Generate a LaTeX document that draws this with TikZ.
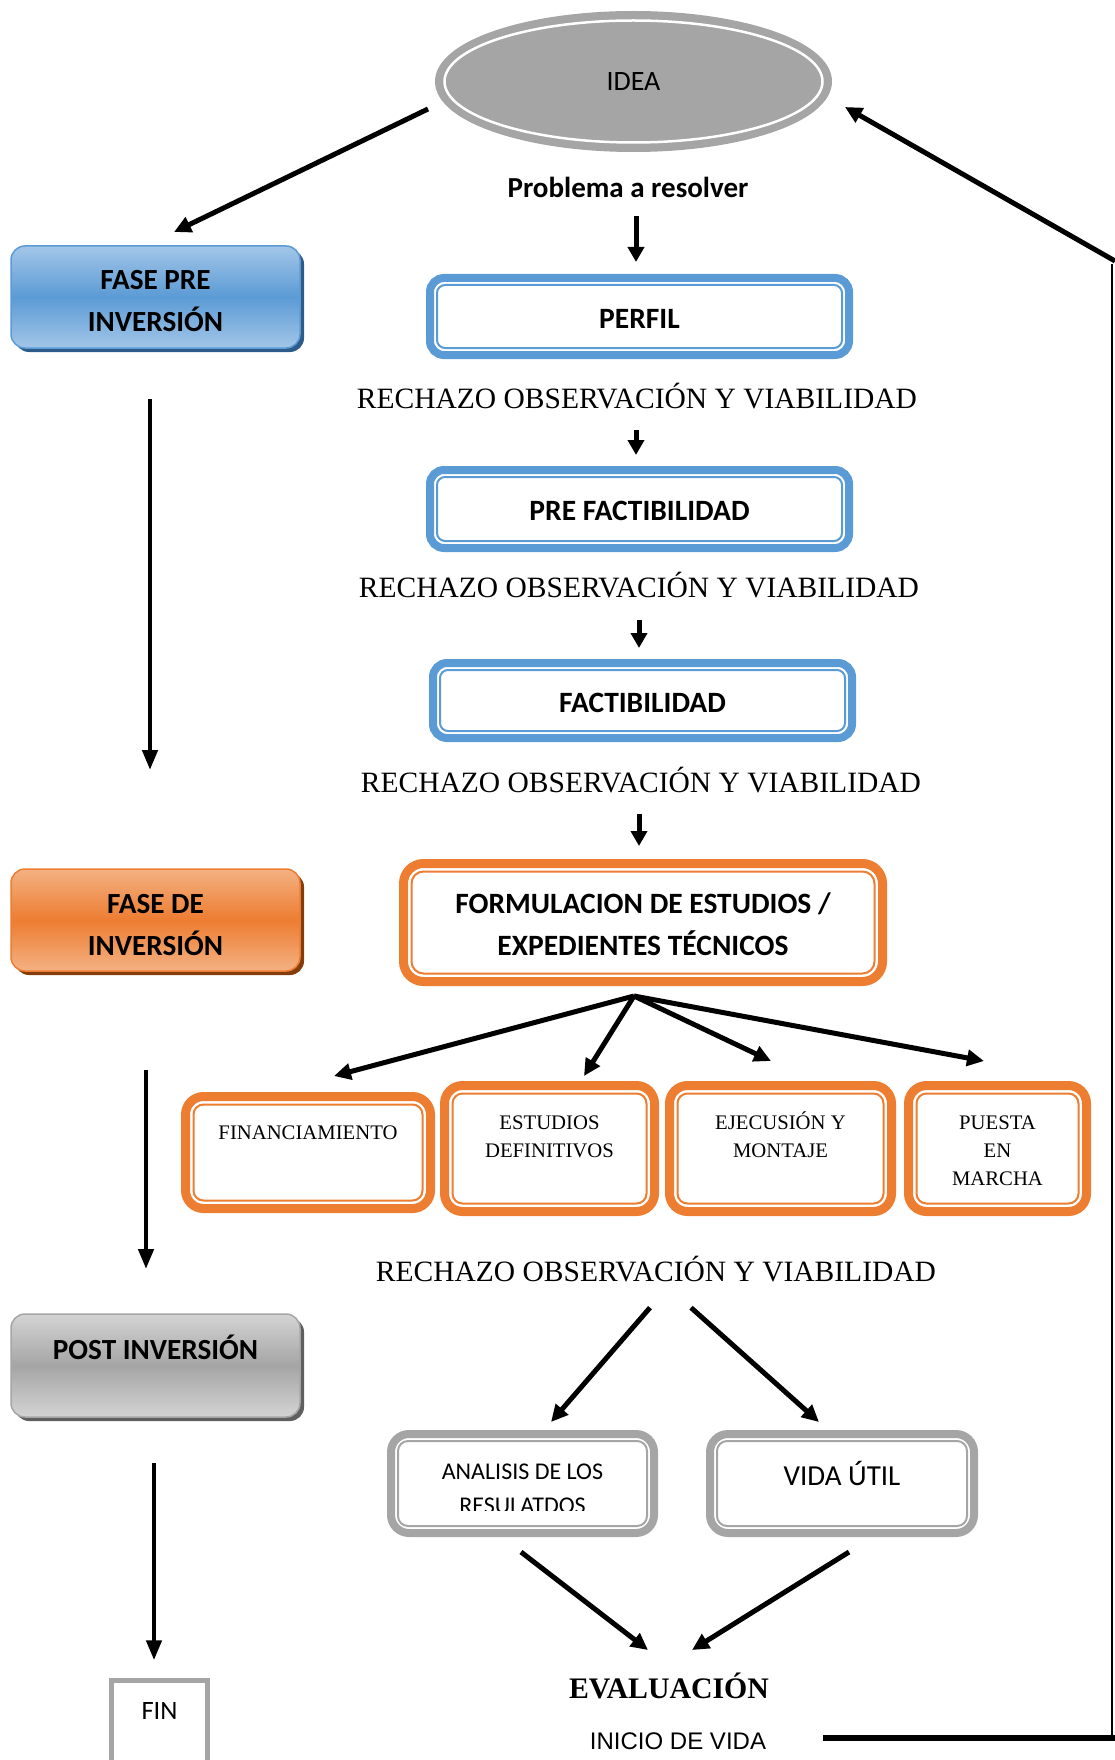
\documentclass[tikz,border=0pt]{standalone}
\usepackage{fontspec}
\setmainfont{Liberation Serif}
\newfontfamily\calibri{Carlito}
\newfontfamily\arial{Liberation Sans}
\usetikzlibrary{arrows.meta,shapes.geometric,shadows}
\definecolor{azul}{HTML}{5B9BD5}
\definecolor{azulclaro}{HTML}{A3C6E8}
\definecolor{azuloscuro}{HTML}{2E5C8A}
\definecolor{naranja}{HTML}{ED7D31}
\definecolor{naranjaclaro}{HTML}{F4B183}
\definecolor{naranjaoscuro}{HTML}{843C0C}
\definecolor{gris}{HTML}{A5A5A5}
\definecolor{grisclaro}{HTML}{D4D4D4}
\definecolor{grisoscuro}{HTML}{5F5F5F}
\newcommand{\bloque}[4]{\parbox[c][#1][t]{#2}{\centering\rule{0pt}{#3}#4}}
\begin{document}
\begin{tikzpicture}[x=1pt,y=-1pt,
  etapa/.style={draw=azul, line width=8pt, rounded corners=14pt, inner sep=0pt, outer sep=0pt,
    font=\calibri\bfseries\fontsize{29.5}{42}\selectfont},
  caja/.style={draw=naranja, line width=9pt, rounded corners=18pt, inner sep=0pt, outer sep=0pt,
    font=\fontsize{20.7}{28}\selectfont},
  cajagris/.style={draw=gris, line width=8pt, rounded corners=18pt, inner sep=0pt, outer sep=0pt,
    font=\calibri\fontsize{24}{34}\selectfont},
  fase/.style n args={3}{draw=#2, top color=#1, bottom color=#1, middle color=#2,
    drop shadow={shadow xshift=4pt, shadow yshift=-4pt, fill=#3, opacity=1},
    rounded corners=14pt, line width=1.5pt, inner sep=0pt, outer sep=0pt,
    font=\calibri\bfseries\fontsize{29.2}{42}\selectfont},
  rechazo/.style={anchor=base, inner sep=0pt, font=\fontsize{29.5}{35}\selectfont},
  flecha/.style={line width=5pt, -{Triangle[length=17pt,width=16pt]}},
  flechita/.style={line width=5pt, -{Triangle[length=15pt,width=16pt]}},
  flechaizq/.style={line width=4.5pt, -{Triangle[length=20pt,width=15pt]}}]
\useasboundingbox (0,0) rectangle (1114,1760);

\node[shape=ellipse, fill=gris, draw=gris, line width=8pt, minimum width=389pt, minimum height=133pt,
  inner sep=0pt, outer sep=0pt, font=\calibri\fontsize{28}{34}\selectfont] (idea) at (633.5,81.5) {IDEA};
\draw[white, line width=2.5pt] (idea.center) ellipse [x radius=189pt, y radius=61pt];
\node[anchor=base, inner sep=0pt, font=\calibri\bfseries\fontsize{29}{34}\selectfont] (prob) at (628,198) {Problema a resolver};

\node[fase={azulclaro}{azul}{azuloscuro}] (fasepre) at (155.5,297) {\bloque{102pt}{289pt}{44pt}{FASE PRE\\INVERSIÓN}};
\node[fase={naranjaclaro}{naranja}{naranjaoscuro}] (fasede) at (155.5,920) {\bloque{102pt}{289pt}{44pt}{FASE DE\\INVERSIÓN}};
\node[fase={grisclaro}{gris}{grisoscuro}] (post) at (155.5,1365.5) {\bloque{103pt}{289pt}{45pt}{POST INVERSIÓN}};
\node[draw=gris, line width=4.5pt, inner sep=0pt, outer sep=0pt, font=\calibri\fontsize{26.5}{32}\selectfont] (fin) at (159.5,1735.25) {\bloque{110pt}{96pt}{39.5pt}{FIN}};

\node[etapa] (perfil) at (639.5,316.5) {\bloque{77pt}{419pt}{50.5pt}{PERFIL}};
\node[rechazo] (r1) at (637,408.6) {RECHAZO OBSERVACIÓN Y VIABILIDAD};
\node[etapa] (prefact) at (639.5,509) {\bloque{78pt}{419pt}{50.5pt}{PRE FACTIBILIDAD}};
\node[rechazo] (r2) at (639,597.6) {RECHAZO OBSERVACIÓN Y VIABILIDAD};
\node[etapa] (fact) at (642.5,700.5) {\bloque{75pt}{419pt}{49.5pt}{FACTIBILIDAD}};
\node[rechazo] (r3) at (641,792.6) {RECHAZO OBSERVACIÓN Y VIABILIDAD};
\node[etapa, draw=naranja, line width=9pt, rounded corners=20pt] (formul) at (643,922.5) {\bloque{118pt}{479pt}{50pt}{FORMULACION DE ESTUDIOS /\\EXPEDIENTES TÉCNICOS}};

\node[caja] (finan) at (308,1152.5) {\bloque{112pt}{245pt}{43pt}{FINANCIAMIENTO}};
\node[caja] (est) at (549.5,1148.5) {\bloque{126pt}{210pt}{44pt}{ESTUDIOS\\DEFINITIVOS}};
\node[caja] (eje) at (780.5,1148.5) {\bloque{126pt}{222pt}{44pt}{EJECUSIÓN Y\\MONTAJE}};
\node[caja] (pue) at (997.5,1148.5) {\bloque{126pt}{178pt}{44pt}{PUESTA\\EN\\MARCHA}};

\node[rechazo] (r4) at (656,1281.6) {RECHAZO OBSERVACIÓN Y VIABILIDAD};
\node[cajagris, minimum width=263pt, minimum height=99pt] (ana) at (522.5,1483.5) {};
\begin{scope}
\clip (ana.north west) rectangle ([yshift=22.5pt]ana.south east);
\node[inner sep=0pt, font=\calibri\fontsize{24}{34}\selectfont] (anatexto) at (ana) {\bloque{99pt}{263pt}{45pt}{ANALISIS DE LOS\\RESULATDOS}};
\end{scope}
\node[cajagris, font=\calibri\fontsize{29}{34}\selectfont] (vida) at (842,1483.5) {\bloque{99pt}{264pt}{51pt}{VIDA ÚTIL}};

\node[anchor=base, inner sep=0pt, font=\bfseries\fontsize{29.8}{34}\selectfont] (eval) at (669,1698.4) {EVALUACIÓN};
\node[anchor=base, inner sep=0pt, font=\arial\fontsize{24}{29}\selectfont] (inicio) at (678,1749.6) {INICIO DE VIDA};

\foreach \n/\c/\s/\r in {perfil/azul/7/8, prefact/azul/7/8, fact/azul/7/8, formul/naranja/8/12,
  finan/naranja/8/10, est/naranja/8/10, eje/naranja/8/10, pue/naranja/8/10, ana/gris/7/10, vida/gris/7/10}
  \draw[draw=\c, line width=2pt, rounded corners=\r pt] ([shift={(\s pt,-\s pt)}]\n.north west) rectangle ([shift={(-\s pt,\s pt)}]\n.south east);

\draw[flecha] ([xshift=-11pt,yshift=-27.5pt]idea.west) -- ([xshift=18.5pt,yshift=14pt]fasepre.north);
\draw[flechita, shorten <=17.7pt, shorten >=16pt] ([xshift=8pt]prob.south) -- ([xshift=8pt]prob.south |- perfil.north);
\draw[flechita, shorten <=21pt, shorten >=15pt] ([xshift=-1pt]r1.south) -- ([xshift=-1pt]r1.south |- prefact.north);
\draw[flechita, shorten <=21.4pt, shorten >=15pt] (r2.south) -- (r2.south |- fact.north);
\draw[flechita, shorten <=20.4pt, shorten >=17.5pt] ([xshift=-2pt]r3.south) -- ([xshift=-2pt]r3.south |- formul.north);

\coordinate (rama) at ([xshift=-9pt,yshift=-14.5pt]formul.south);
\foreach \dest/\dx/\dy in {finan/26/20.5, est/34.5/9.5, eje/-9.5/24.5, pue/-13.5/24.5}
  \draw[flecha] (rama) -- ([xshift=\dx pt,yshift=\dy pt]\dest.north);

\draw[flecha] ([xshift=-6pt,yshift=-25.4pt]r4.south) -- ([xshift=28.5pt,yshift=12pt]ana.north);
\draw[flecha] ([xshift=35pt,yshift=-25.4pt]r4.south) -- ([xshift=-23pt,yshift=12pt]vida.north);
\draw[flecha] ([xshift=-1.5pt,yshift=-19pt]ana.south) -- ([xshift=-21pt,yshift=48.4pt]eval.base);
\draw[flecha] ([xshift=7pt,yshift=-19pt]vida.south) -- ([xshift=23pt,yshift=48.4pt]eval.base);

\draw[flechaizq, shorten <=51pt, shorten >=99pt] ([xshift=-5.5pt]fasepre.south) -- ([xshift=-5.5pt]fasede.north);
\draw[flechaizq, shorten <=99pt, shorten >=45pt] ([xshift=-9.5pt]fasede.south) -- ([xshift=-9.5pt]post.north);
\draw[flechaizq, shorten <=46pt, shorten >=20pt] ([xshift=-1.5pt]post.south) -- ([xshift=-1.5pt]post.south |- fin.north);

\coordinate (codo1) at (1112,1738);
\coordinate (codo2) at (1112,264);
\draw[line width=6pt] ([xshift=57pt,yshift=11.6pt]inicio.base east) -- ([xshift=4pt]codo1);
\draw[line width=2.5pt] (codo1) -- (codo2);
\draw[flecha] ([xshift=3pt,yshift=3pt]codo2) -- ([xshift=17pt,yshift=-25.5pt]idea.east);
\end{tikzpicture}
\end{document}
